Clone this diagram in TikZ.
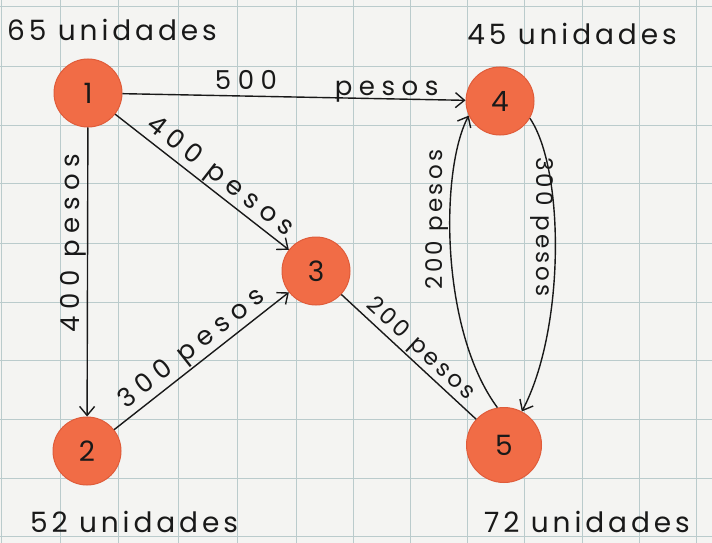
\documentclass[tikz,border=0pt]{standalone}
\usepackage{fontspec}
\setmainfont{Poppins}
\newfontfamily\handcost[LetterSpace=25]{Poppins}
\newfontfamily\handtight[LetterSpace=14]{Poppins}
\newfontfamily\handsupply[LetterSpace=14]{Poppins}
\usetikzlibrary{arrows.meta}
\definecolor{paper}{RGB}{244,244,242}
\definecolor{gridline}{RGB}{186,203,204}
\definecolor{dot}{RGB}{241,108,70}
\definecolor{dotrim}{RGB}{224,92,58}
\definecolor{ink}{RGB}{25,25,25}
\begin{document}
\begin{tikzpicture}[x=1pt,y=-1pt,
  vertex/.style={circle, fill=dot, draw=dotrim, line width=1pt, minimum size=68pt,
    inner sep=0pt, font=\fontsize{28}{28}\selectfont, text=ink},
  edge/.style={draw=ink, line width=1.4pt,
    -{Straight Barb[length=9pt,width=15pt,line width=1.4pt]}},
  plain/.style={draw=ink, line width=1.4pt},
  cost/.style={font=\handcost\fontsize{26}{26}\selectfont, text=ink, inner sep=1pt},
  smallcost/.style={font=\handtight\fontsize{23}{23}\selectfont, text=ink, inner sep=1pt},
  supply/.style={font=\handsupply\fontsize{28}{28}\selectfont, text=ink, inner sep=0pt},
]
% squared paper
\fill[paper] (0,0) rectangle (712,543);
\useasboundingbox (0,0) rectangle (712,543);
\foreach \x in {1,60,118,178,237,296,353,410,467,524,582,639,696}
  \draw[gridline, line width=1pt] (\x,0) -- (\x,543);
\foreach \y in {7,67,125,183,243,302,360,419,478,536}
  \draw[gridline, line width=1pt] (0,\y) -- (712,\y);

% vertices
\node[vertex] (n1) at (88,93) {1};
\node[vertex] (n4) at (500,101) {4};
\node[vertex] (n3) at (316,271) {3};
\node[vertex] (n2) at (87,451) {2};
\node[vertex, minimum size=75pt] (n5) at (504,445) {5};

% supplies
\node[supply] (s1) at (112,30) {65 unidades};
\node[supply] (s4) at (572,34) {45 unidades};
\node[supply] (s2) at (134,522) {52 unidades};
\node[supply] (s5) at (587,522) {72 unidades};

% arcs with costs
\draw[edge] (n1) -- (n4)
  node[cost, pos=0.36, anchor=base, yshift=7pt] (c14a) {500}
  node[cost, pos=0.77, anchor=base, yshift=3pt] (c14b) {pesos};
\draw[edge] (n1) -- (n2)
  node[cost, pos=0.4, rotate=90, anchor=south] (c12) {400 pesos};
\draw[edge] (n1) -- (n3)
  node[cost, pos=0.55, sloped, anchor=south] (c13) {400 pesos};
\draw[edge] (n2) -- (n3)
  node[cost, pos=0.5, sloped, anchor=south] (c23) {300 pesos};
\draw[plain] (n3) -- (n5)
  node[smallcost, pos=0.52, sloped, anchor=south] (c35) {200 pesos};
\draw[edge] (n5.100) .. controls (440,330) and (440,170) .. (n4.205)
  node[smallcost, pos=0.6, rotate=90, anchor=south] (c54) {200 pesos};
\draw[edge] (n4.330) .. controls (565,170) and (565,330) .. (n5.62)
  node[smallcost, pos=0.42, rotate=-90, anchor=north] (c45) {300 pesos};
\end{tikzpicture}
\end{document}
